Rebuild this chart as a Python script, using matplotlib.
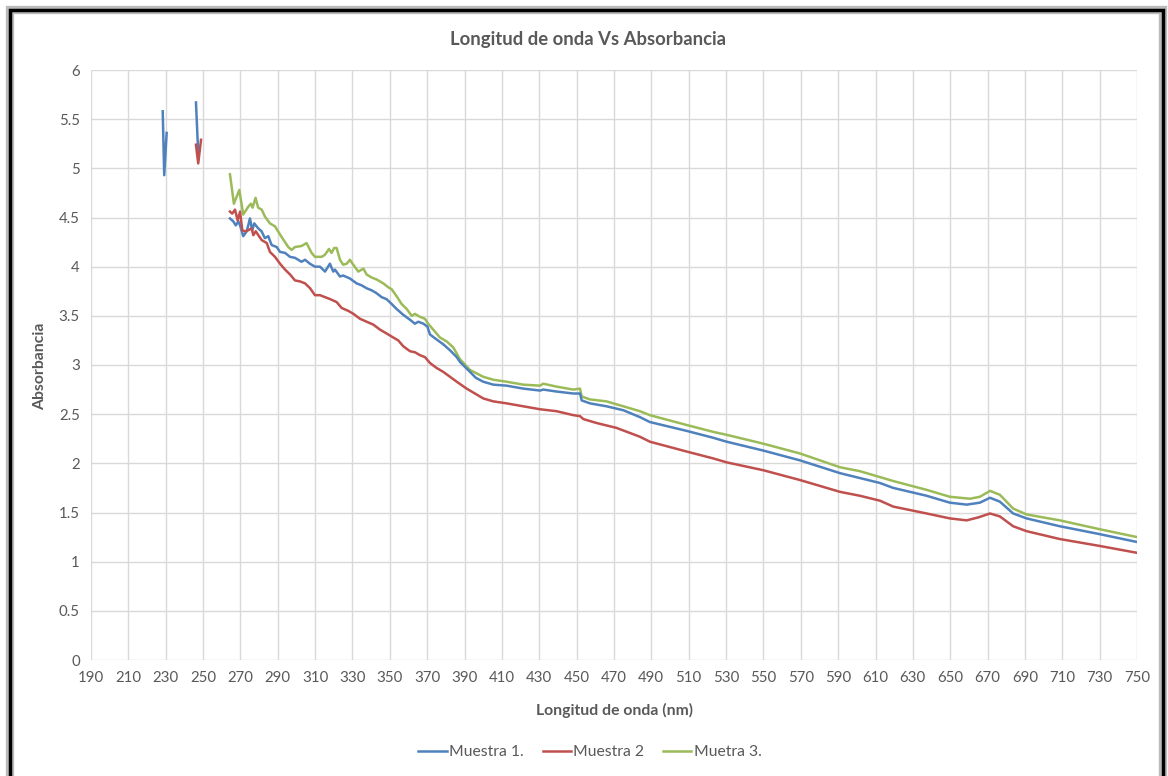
import numpy as np
import matplotlib
matplotlib.use("Agg")
import matplotlib.pyplot as plt
from matplotlib.lines import Line2D
from matplotlib.ticker import FormatStrFormatter

plt.rcParams['font.family'] = ['Lato', 'DejaVu Sans']

# Datos (longitud de onda en nm, absorbancia)
# Muestra 1 (azul): dos picos aislados y la curva principal
m1_pico1_x = [228.4, 229.2, 230.5]
m1_pico1_y = [5.58, 4.93, 5.36]
m1_pico2_x = [246.2, 247.4]
m1_pico2_y = [5.67, 5.15]
m1_x = [264.4, 266.2, 267.5, 268.9, 269.8, 271.5, 273.4, 275.1, 276.3, 277.4,
        279.5, 281.3, 283.1, 284.9, 286.7, 289.4, 291.2, 293.9, 296.5, 299.2,
        302.7, 304.6, 307.2, 309.9, 312.6, 315.3, 317.9, 319.7, 320.6, 323.3,
        325.0, 328.6, 332.2, 334.9, 337.6, 340.2, 342.9, 345.6, 348.2, 351.0,
        353.6, 357.2, 360.8, 363.4, 365.2, 368.0, 370.1, 371.5, 375.0, 378.6,
        382.2, 385.8, 387.6, 392.9, 396.0, 400.0, 405.4, 412.5, 421.4, 430.4,
        432.1, 439.3, 448.2, 451.8, 452.7, 457.1, 466.0, 475.0, 483.9, 489.2,
        508.9, 523.1, 530.3, 549.9, 569.6, 591.0, 601.7, 612.4, 619.5, 637.4,
        649.8, 658.8, 665.9, 671.3, 676.6, 683.7, 690.9, 708.7, 730.0, 750.0]
m1_y = [4.49, 4.46, 4.42, 4.46, 4.42, 4.31, 4.36, 4.49, 4.37, 4.44,
        4.39, 4.36, 4.29, 4.31, 4.22, 4.20, 4.15, 4.14, 4.10, 4.09,
        4.05, 4.07, 4.03, 4.00, 4.00, 3.95, 4.03, 3.95, 3.97, 3.90,
        3.91, 3.88, 3.83, 3.81, 3.78, 3.76, 3.73, 3.69, 3.67, 3.62,
        3.57, 3.51, 3.46, 3.42, 3.44, 3.42, 3.39, 3.31, 3.26, 3.21,
        3.15, 3.08, 3.03, 2.93, 2.87, 2.83, 2.80, 2.79, 2.76, 2.74,
        2.75, 2.73, 2.71, 2.71, 2.64, 2.61, 2.58, 2.54, 2.47, 2.42,
        2.33, 2.26, 2.22, 2.13, 2.03, 1.90, 1.85, 1.80, 1.75, 1.67,
        1.60, 1.58, 1.60, 1.65, 1.61, 1.49, 1.44, 1.36, 1.28, 1.20]

# Muestra 2 (rojo)
m2_pico_x = [246.2, 247.4, 248.9]
m2_pico_y = [5.24, 5.05, 5.29]
m2_x = [264.4, 265.6, 267.1, 268.5, 269.8, 271.0, 272.4, 274.2, 276.0, 276.9,
        278.2, 279.6, 281.4, 284.1, 285.8, 288.5, 291.2, 293.9, 296.6, 299.2,
        301.9, 304.6, 307.3, 309.9, 312.6, 315.3, 318.0, 321.5, 324.2, 327.8,
        330.5, 334.0, 337.6, 341.2, 344.7, 348.3, 351.8, 354.5, 357.2, 360.8,
        363.4, 366.1, 368.8, 371.5, 375.0, 378.6, 382.2, 385.8, 391.1, 400.0,
        405.4, 412.5, 421.4, 430.4, 439.3, 448.2, 451.8, 453.6, 460.7, 471.4,
        483.9, 489.2, 508.9, 523.1, 530.3, 549.9, 569.6, 591.0, 601.7, 612.4,
        619.5, 637.4, 649.8, 658.8, 665.0, 671.3, 676.6, 683.7, 690.9, 708.7,
        730.0, 750.0]
m2_y = [4.56, 4.54, 4.58, 4.47, 4.56, 4.37, 4.36, 4.37, 4.39, 4.32,
        4.36, 4.32, 4.27, 4.24, 4.15, 4.10, 4.03, 3.97, 3.92, 3.86,
        3.85, 3.83, 3.78, 3.71, 3.71, 3.69, 3.67, 3.64, 3.58, 3.55,
        3.52, 3.47, 3.44, 3.41, 3.36, 3.32, 3.28, 3.25, 3.19, 3.14,
        3.13, 3.10, 3.08, 3.02, 2.97, 2.93, 2.88, 2.83, 2.76, 2.66,
        2.63, 2.61, 2.58, 2.55, 2.53, 2.49, 2.48, 2.45, 2.41, 2.36,
        2.27, 2.22, 2.12, 2.05, 2.01, 1.93, 1.83, 1.71, 1.67, 1.62,
        1.56, 1.49, 1.44, 1.42, 1.45, 1.49, 1.46, 1.36, 1.31, 1.23,
        1.16, 1.09]

# Muetra 3 (verde)
m3_x = [264.4, 266.5, 269.4, 271.5, 274.2, 275.6, 276.5, 278.1, 279.5, 281.4,
        283.1, 285.8, 288.5, 292.1, 295.6, 297.4, 299.2, 302.7, 305.4, 308.1,
        309.9, 313.5, 315.2, 317.4, 318.8, 320.2, 321.5, 323.3, 325.0, 326.9,
        328.6, 330.4, 333.1, 335.8, 337.6, 340.2, 342.9, 346.5, 349.2, 351.0,
        353.6, 356.3, 359.0, 361.7, 363.4, 366.1, 368.8, 370.5, 373.2, 376.8,
        380.4, 383.9, 387.5, 392.9, 400.0, 405.4, 412.5, 421.4, 430.4, 432.1,
        439.3, 448.2, 451.8, 452.7, 457.1, 466.0, 475.0, 483.9, 489.2, 508.9,
        523.1, 530.3, 549.9, 569.6, 591.0, 601.7, 612.4, 619.5, 637.4, 649.8,
        660.6, 665.9, 671.3, 676.6, 683.7, 690.9, 708.7, 730.0, 750.0]
m3_y = [4.94, 4.64, 4.78, 4.53, 4.61, 4.64, 4.60, 4.70, 4.60, 4.58,
        4.51, 4.44, 4.41, 4.30, 4.20, 4.17, 4.20, 4.21, 4.24, 4.14,
        4.10, 4.10, 4.12, 4.18, 4.14, 4.19, 4.19, 4.07, 4.02, 4.03,
        4.07, 4.02, 3.95, 3.98, 3.92, 3.89, 3.87, 3.83, 3.79, 3.77,
        3.70, 3.62, 3.57, 3.50, 3.52, 3.49, 3.47, 3.42, 3.36, 3.28,
        3.24, 3.18, 3.06, 2.95, 2.88, 2.85, 2.83, 2.80, 2.79, 2.81,
        2.78, 2.75, 2.76, 2.68, 2.65, 2.63, 2.58, 2.53, 2.49, 2.39,
        2.32, 2.29, 2.20, 2.10, 1.96, 1.92, 1.86, 1.82, 1.73, 1.66,
        1.64, 1.66, 1.72, 1.68, 1.54, 1.48, 1.42, 1.33, 1.25]

x_ticks = np.arange(190, 751, 20)
y_ticks = np.arange(0, 6.01, 0.5)

azul = '#4F81BD'
rojo = '#C0504D'
verde = '#9BBB59'
gris_txt = '#595959'

W, H = 1168, 776
fig = plt.figure(figsize=(W / 100, H / 100), dpi=100)
ax = fig.add_axes([91 / W, 1 - 660 / H, (1137 - 91) / W, (660 - 70) / H])

lw = 1.8
# segmentos separados con NaN, como huecos en la serie
b_x = m1_pico1_x + [np.nan] + m1_pico2_x + [np.nan] + m1_x
b_y = m1_pico1_y + [np.nan] + m1_pico2_y + [np.nan] + m1_y
r_x = m2_pico_x + [np.nan] + m2_x
r_y = m2_pico_y + [np.nan] + m2_y
ax.plot(b_x, b_y, color=azul, lw=lw, solid_joinstyle='round', zorder=3)
ax.plot(r_x, r_y, color=rojo, lw=lw, solid_joinstyle='round', zorder=4)
ax.plot(m3_x, m3_y, color=verde, lw=lw, solid_joinstyle='round', zorder=2)

ax.set_xlim(190, 750)
ax.set_ylim(0, 6)
ax.set_xticks(x_ticks)
ax.set_yticks(y_ticks)
ax.yaxis.set_major_formatter(FormatStrFormatter('%g'))
ax.grid(True, color='#D9D9D9', lw=1.0)
ax.set_axisbelow(True)
for s in ax.spines.values():
    s.set_visible(False)
ax.tick_params(length=0, labelsize=10.8, labelcolor=gris_txt, pad=8)

fig.text(588 / W, 1 - 40 / H, 'Longitud de onda Vs Absorbancia', ha='center', va='center',
         fontsize=13.3, fontweight='bold', color=gris_txt)
fig.text(614 / W, 1 - 710 / H, 'Longitud de onda (nm)', ha='center', va='center',
         fontsize=11.3, fontweight='bold', color=gris_txt)
fig.text(40 / W, 1 - 366 / H, 'Absorbancia', ha='center', va='center', rotation=90,
         fontsize=11.3, fontweight='bold', color=gris_txt)

handles = [Line2D([], [], color=azul, lw=lw), Line2D([], [], color=rojo, lw=lw),
           Line2D([], [], color=verde, lw=lw)]
fig.legend(handles, ['Muestra 1.', 'Muestra 2', 'Muetra 3.'], loc='center',
           bbox_to_anchor=(590 / W, 1 - 752 / H), ncol=3, frameon=False,
           fontsize=11.3, labelcolor=gris_txt, handlelength=1.8,
           handletextpad=0.15, columnspacing=1.2)

# marco negro con sombra del grafico de Excel
for c, w in [('#BBBBBB', 6), ('black', 2.5)]:
    xs = [9.5 / W, 9.5 / W, 1163 / W, 1163 / W]
    ys = [-0.05, 1 - 10 / H, 1 - 10 / H, -0.05]
    fig.add_artist(Line2D(xs, ys, color=c, lw=w, transform=fig.transFigure,
                          solid_joinstyle='miter'))

fig.savefig('out.png', dpi=100, facecolor='white')
